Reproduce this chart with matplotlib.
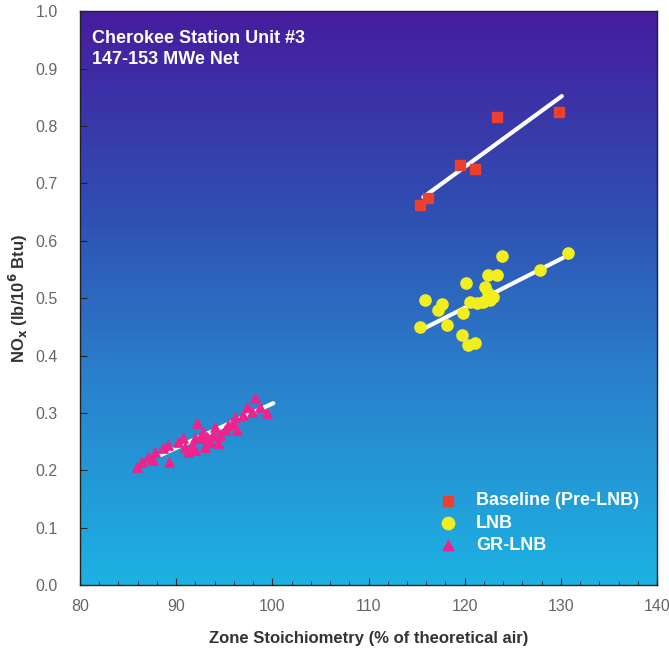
import numpy as np
import matplotlib
matplotlib.use("Agg")
import matplotlib.pyplot as plt
from matplotlib.colors import LinearSegmentedColormap
from matplotlib.ticker import MultipleLocator, FormatStrFormatter

plt.rcParams['font.family'] = ['Liberation Sans', 'DejaVu Sans']

# Baseline (Pre-LNB)
base_x = [123.4, 129.8, 119.5, 121.1, 115.4, 116.2]
base_y = [0.815, 0.824, 0.732, 0.725, 0.662, 0.674]
base_fit_x = [115.7, 130.1]
base_fit_y = [0.676, 0.852]

# LNB
lnb_x = [123.9, 130.7, 127.8, 122.4, 123.4, 120.1, 122.1, 122.4, 122.9, 115.9, 117.6,
         117.2, 120.6, 121.3, 121.9, 122.6, 119.8, 115.4, 118.2, 119.7, 120.3, 121.1]
lnb_y = [0.573, 0.578, 0.549, 0.540, 0.540, 0.526, 0.519, 0.509, 0.502, 0.497, 0.490,
         0.479, 0.493, 0.491, 0.493, 0.497, 0.474, 0.449, 0.453, 0.436, 0.418, 0.422]
lnb_fit_x = [115.4, 130.2]
lnb_fit_y = [0.444, 0.570]

# GR-LNB
gr_x = [85.9, 86.4, 87.1, 87.8, 87.6, 88.6, 89.3, 89.2, 90.2, 90.9, 91.2, 91.6, 92.0,
        92.2, 92.5, 92.8, 93.0, 93.5, 93.8, 94.0, 94.3, 94.6, 95.1, 95.4, 95.9, 96.3,
        96.1, 96.9, 97.4, 97.9, 98.2, 98.7, 99.4, 92.0, 93.2, 90.7]
gr_y = [0.206, 0.214, 0.223, 0.232, 0.218, 0.239, 0.214, 0.244, 0.249, 0.240, 0.232,
        0.244, 0.235, 0.282, 0.256, 0.267, 0.240, 0.249, 0.261, 0.275, 0.247, 0.261,
        0.270, 0.279, 0.282, 0.270, 0.293, 0.296, 0.310, 0.301, 0.326, 0.310, 0.300,
        0.256, 0.258, 0.256]
gr_fit_x = [88.3, 100.1]
gr_fit_y = [0.226, 0.317]

fig = plt.figure(figsize=(6.69, 6.56), dpi=100)
ax = fig.add_axes([0.1196, 0.108, 0.8625, 0.875])

# background gradient, purple at top to cyan at bottom
cmap = LinearSegmentedColormap.from_list(
    "bg", [(0.0, "#1cb2e2"), (0.35, "#2a82cc"), (0.65, "#2f4fb2"), (1.0, "#461c9e")])
grad = np.linspace(0, 1, 256).reshape(-1, 1)
ax.imshow(grad, cmap=cmap, aspect="auto", origin="lower",
          extent=[80, 140, 0, 1], zorder=0)

for fx, fy in [(base_fit_x, base_fit_y), (lnb_fit_x, lnb_fit_y), (gr_fit_x, gr_fit_y)]:
    ax.plot(fx, fy, color="white", lw=3, zorder=2, solid_capstyle="round")

ax.scatter(base_x, base_y, marker="s", s=48, color="#ec3f2c", zorder=3,
           label="Baseline (Pre-LNB)")
ax.scatter(lnb_x, lnb_y, marker="o", s=65, color="#f2ee1e", zorder=3, label="LNB")
ax.scatter(gr_x, gr_y, marker="^", s=45, color="#f0228c", zorder=3, label="GR-LNB")

ax.set_xlim(80, 140)
ax.set_ylim(0, 1)
ax.xaxis.set_major_locator(MultipleLocator(10))
ax.xaxis.set_minor_locator(MultipleLocator(2))
ax.yaxis.set_major_locator(MultipleLocator(0.1))
ax.yaxis.set_major_formatter(FormatStrFormatter("%.1f"))
ax.tick_params(axis="both", which="both", direction="in", colors="#222222",
               labelcolor="#666666", labelsize=11.5)
ax.tick_params(which="major", length=5)
ax.tick_params(which="minor", length=3)
ax.tick_params(axis="x", pad=10)
ax.tick_params(axis="y", pad=16)
for s in ax.spines.values():
    s.set_color("#222222")
    s.set_linewidth(1)

ax.set_xlabel("Zone Stoichiometry (% of theoretical air)", fontsize=12,
              fontweight="bold", color="#333333", labelpad=12)
ax.set_ylabel("NO$_\\mathbf{x}$ (lb/10$^\\mathbf{6}$ Btu)", fontsize=12,
              fontweight="bold", color="#333333", labelpad=4)

ax.text(0.021, 0.968, "Cherokee Station Unit #3\n147-153 MWe Net", transform=ax.transAxes,
        ha="left", va="top", color="white", fontsize=13, fontweight="bold",
        linespacing=1.35)

leg = ax.legend(loc="upper left", bbox_to_anchor=(0.578, 0.19), frameon=False,
                handletextpad=0.55, labelspacing=0.3, fontsize=13, markerscale=1.1)
for t in leg.get_texts():
    t.set_color("white")
    t.set_fontweight("bold")

fig.savefig("out.png", dpi=100)
